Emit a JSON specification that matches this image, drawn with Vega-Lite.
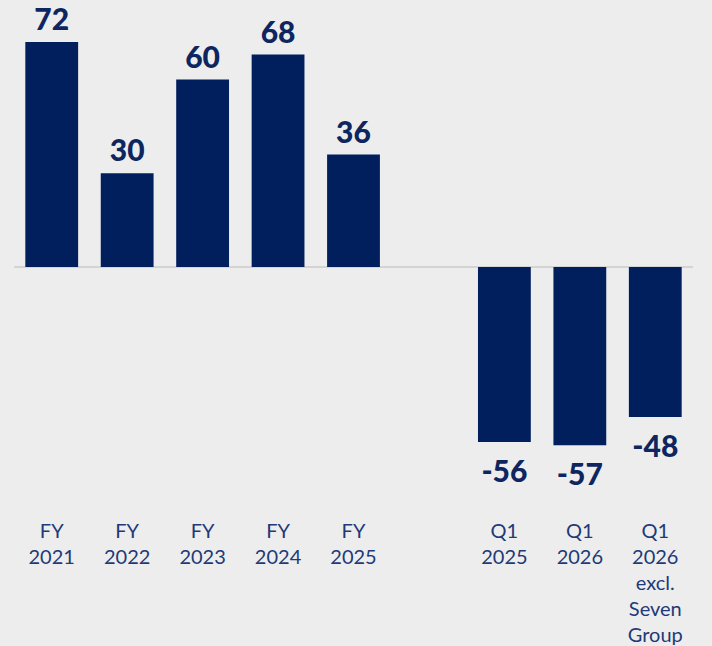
{
  "$schema": "https://vega.github.io/schema/vega-lite/v6.json",
  "autosize": "none",
  "width": 679,
  "height": 500,
  "padding": {"left": 14, "top": 17, "right": 19, "bottom": 129},
  "background": "#ededed",
  "config": {"view": {"stroke": null}, "font": "Lato"},
  "data": {
    "values": [
      {"period": "FY|2021", "value": 72},
      {"period": "FY|2022", "value": 30},
      {"period": "FY|2023", "value": 60},
      {"period": "FY|2024", "value": 68},
      {"period": "FY|2025", "value": 36},
      {"period": "Q1|2025", "value": -56},
      {"period": "Q1|2026", "value": -57},
      {"period": "Q1|2026|excl.|Seven|Group", "value": -48}
    ]
  },
  "encoding": {
    "x": {
      "field": "period",
      "type": "nominal",
      "sort": null,
      "scale": {
        "domain": ["FY|2021", "FY|2022", "FY|2023", "FY|2024", "FY|2025", "gap", "Q1|2025", "Q1|2026", "Q1|2026|excl.|Seven|Group"],
        "paddingInner": 0.3,
        "paddingOuter": 0.15
      },
      "axis": {
        "title": null,
        "domain": false,
        "ticks": false,
        "labelAngle": 0,
        "labelExpr": "datum.value == 'gap' ? '' : split(datum.value, '|')",
        "labelFont": "Lato",
        "labelFontSize": 20,
        "labelFontWeight": 400,
        "labelColor": "#1e3a78",
        "labelLineHeight": 26,
        "labelPadding": 4,
        "labelBaseline": "top"
      }
    },
    "y": {
      "field": "value",
      "type": "quantitative",
      "scale": {"domain": [-80, 80], "nice": false, "zero": true},
      "axis": null
    }
  },
  "layer": [
    {
      "mark": {"type": "rule", "color": "#d4d4d4", "strokeWidth": 2},
      "data": {"values": [{"z": 0}]},
      "encoding": {"y": {"field": "z", "type": "quantitative"}, "x": {"value": 0}, "x2": {"value": 679}}
    },
    {
      "mark": {"type": "bar", "color": "#001f5c"}
    },
    {
      "transform": [{"filter": "datum.value >= 0"}],
      "mark": {"type": "text", "baseline": "bottom", "dy": -6, "fontSize": 30, "fontWeight": 900, "color": "#0d2660", "font": "Lato"},
      "encoding": {"text": {"field": "value", "type": "nominal"}}
    },
    {
      "transform": [{"filter": "datum.value < 0"}],
      "mark": {"type": "text", "baseline": "top", "dy": 16, "fontSize": 30, "fontWeight": 900, "color": "#0d2660", "font": "Lato"},
      "encoding": {"text": {"field": "value", "type": "nominal"}}
    }
  ]
}
